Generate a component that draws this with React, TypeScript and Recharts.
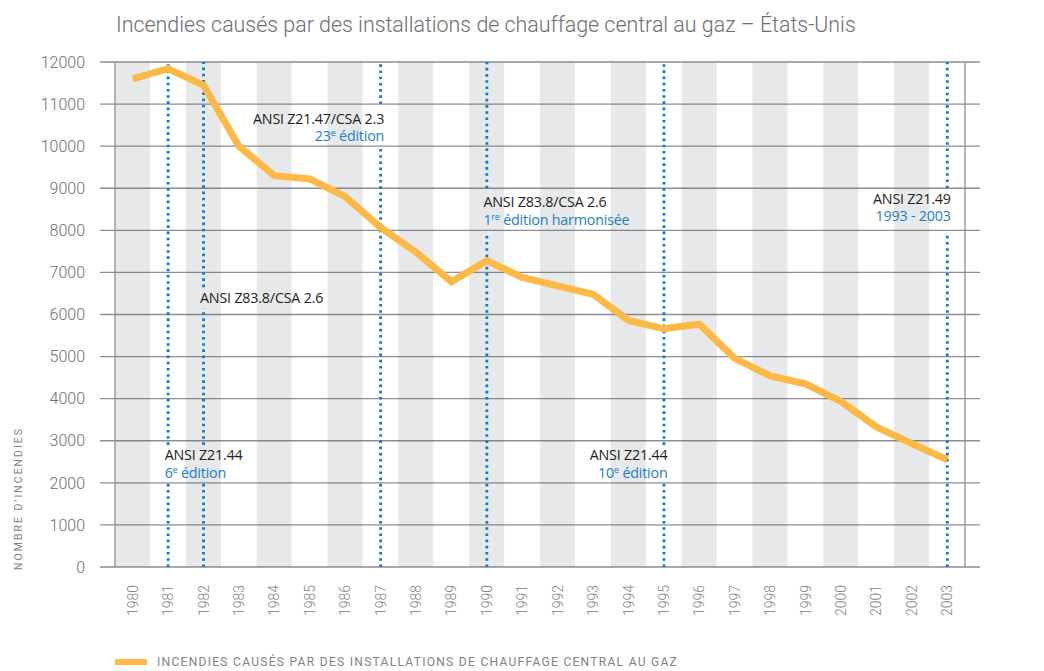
import React from 'react';
import { ComposedChart, Bar, Line, XAxis, YAxis, CartesianGrid, ReferenceLine, ReferenceDot } from 'recharts';

const years = [
  '1980', '1981', '1982', '1983', '1984', '1985', '1986', '1987', '1988', '1989', '1990', '1991',
  '1992', '1993', '1994', '1995', '1996', '1997', '1998', '1999', '2000', '2001', '2002', '2003',
];

const fires = [
  11600, 11840, 11450, 10000, 9300, 9220, 8800, 8070, 7480, 6780, 7280, 6880,
  6680, 6480, 5860, 5660, 5770, 4960, 4540, 4350, 3930, 3330, 2930, 2550,
];

const yTicks = [0, 1000, 2000, 3000, 4000, 5000, 6000, 7000, 8000, 9000, 10000, 11000, 12000];

// every other year is shaded, full height
const bandValues = years.map((_, i) => (i % 2 === 0 ? 12000 : 0));

// dotted edition markers, broken where a label sits on them
const markerSegments = [
  { year: '1981', from: 0, to: 1990 },
  { year: '1981', from: 2900, to: 12000 },
  { year: '1982', from: 0, to: 1990 },
  { year: '1982', from: 2900, to: 6150 },
  { year: '1982', from: 6650, to: 12000 },
  { year: '1987', from: 0, to: 9980 },
  { year: '1987', from: 11000, to: 12000 },
  { year: '1990', from: 0, to: 7950 },
  { year: '1990', from: 9000, to: 12000 },
  { year: '1995', from: 0, to: 1990 },
  { year: '1995', from: 2900, to: 12000 },
  { year: '2003', from: 0, to: 7880 },
  { year: '2003', from: 9000, to: 12000 },
];

const notes = [
  { year: '1987', y: 10650, side: 'end', title: 'ANSI Z21.47/CSA 2.3', num: '23', sup: 'e', rest: ' édition' },
  { year: '1982', y: 6400, side: 'start', title: 'ANSI Z83.8/CSA 2.6' },
  { year: '1990', y: 8670, side: 'start', title: 'ANSI Z83.8/CSA 2.6', num: '1', sup: 're', rest: ' édition harmonisée' },
  { year: '2003', y: 8750, side: 'end', title: 'ANSI Z21.49', num: '1993 - 2003' },
  { year: '1981', y: 2650, side: 'start', title: 'ANSI Z21.44', num: '6', sup: 'e', rest: ' édition' },
  { year: '1995', y: 2650, side: 'end', title: 'ANSI Z21.44', num: '10', sup: 'e', rest: ' édition' },
];

const data = years.map((year, i) => ({ year, fires: fires[i], band: bandValues[i] }));

const GRID = '#8e8e8e';
const AXIS_TEXT = '#6d6e71';
const BLUE = '#0b7bc9';

const NoteLabel = ({ viewBox, note }: any) => {
  const cx = viewBox.x + viewBox.width / 2;
  const cy = viewBox.y + viewBox.height / 2;
  const x = note.side === 'end' ? cx + 3.5 : cx - 3.5;
  return (
    <g fontFamily="'Open Sans', sans-serif" fontSize={14.3}>
      <text x={x} y={cy + 5} textAnchor={note.side} fill="#231f20" letterSpacing={-0.2}>
        {note.title}
      </text>
      {note.num && (
        <text x={x} y={cy + 22.5} textAnchor={note.side} fill="#1a80c6" letterSpacing={-0.2}>
          <tspan>{note.num}</tspan>
          {note.sup && (
            <tspan dy={-5} fontSize={9}>
              {note.sup}
            </tspan>
          )}
          {note.rest && <tspan dy={note.sup ? 5 : 0}>{note.rest}</tspan>}
        </text>
      )}
    </g>
  );
};

const YearTick = ({ x, y, payload }: any) => (
  <text
    x={x}
    y={y + 10}
    transform={`rotate(-90, ${x}, ${y + 10})`}
    textAnchor="end"
    dominantBaseline="central"
    fill="#808285"
    fontFamily="Roboto, sans-serif"
    fontWeight={300}
    fontSize={14}
  >
    {payload.value}
  </text>
);

const AxisTitle = ({ viewBox }: any) => {
  const y = viewBox.y + viewBox.height + 3;
  return (
    <text
      x={18}
      y={y}
      transform={`rotate(-90, 18, ${y})`}
      dominantBaseline="central"
      fill="#808285"
      fontFamily="Roboto, sans-serif"
      fontSize={10.5}
      letterSpacing={2}
    >
      NOMBRE D’INCENDIES
    </text>
  );
};

const gridLine = (props: any) => (
  <line
    key={props.key ?? `h-${props.index}`}
    x1={props.x1 - 15}
    x2={props.x2 + 15}
    y1={props.y1}
    y2={props.y2}
    stroke={GRID}
    strokeWidth={1.3}
  />
);

const App = () => {
  const tickStyle = { fill: AXIS_TEXT, fontSize: 16, fontFamily: 'Roboto, sans-serif', fontWeight: 300 };
  return (
    <div style={{ position: 'absolute', left: 0, top: 0, width: 1044, height: 671, background: '#fff' }}>
      <div
        style={{
          position: 'absolute',
          left: 116,
          top: 10,
          lineHeight: '30px',
          fontFamily: 'Roboto, sans-serif',
          fontWeight: 300,
          fontSize: 21.4,
          color: '#6d6e71',
          whiteSpace: 'nowrap',
        }}
      >
        Incendies causés par des installations de chauffage central au gaz – États-Unis
      </div>
      <ComposedChart
        width={1044}
        height={671}
        data={data}
        margin={{ top: 62, right: 0, bottom: 44, left: 0 }}
        barCategoryGap={0}
        barGap={0}
      >
        <Bar
          dataKey="band"
          yAxisId="left"
          fill="#3c4a5a"
          fillOpacity={0.13}
          isAnimationActive={false}
        />
        <CartesianGrid yAxisId="left" vertical={false} horizontal={gridLine} />
        <XAxis
          dataKey="year"
          interval={0}
          tickLine={false}
          axisLine={false}
          height={60}
          tick={<YearTick />}
        />
        <YAxis
          yAxisId="left"
          orientation="left"
          width={115}
          domain={[0, 12000]}
          ticks={yTicks}
          interval={0}
          tickLine={false}
          axisLine={{ stroke: GRID, strokeWidth: 1.3 }}
          tickSize={6}
          tickMargin={24}
          tick={tickStyle}
          label={<AxisTitle />}
        />
        <YAxis
          yAxisId="right"
          orientation="right"
          width={79}
          domain={[0, 12000]}
          ticks={yTicks}
          interval={0}
          tickLine={false}
          axisLine={{ stroke: GRID, strokeWidth: 1.3 }}
          tickSize={6}
          tickMargin={22}
          tick={{ ...tickStyle, textAnchor: 'start' }}
        />
        {markerSegments.map((s, i) => (
          <ReferenceLine
            key={`seg-${i}`}
            yAxisId="left"
            segment={[
              { x: s.year, y: s.from },
              { x: s.year, y: s.to },
            ]}
            stroke={BLUE}
            strokeWidth={2.8}
            strokeDasharray="2.6 3.6"
          />
        ))}
        <Line
          type="linear"
          dataKey="fires"
          yAxisId="left"
          stroke="#fdb946"
          strokeWidth={7}
          dot={false}
          activeDot={false}
          isAnimationActive={false}
        />
        {notes.map((n, i) => (
          <ReferenceDot
            key={`note-${i}`}
            yAxisId="left"
            x={n.year}
            y={n.y}
            r={0.1}
            fill="none"
            stroke="none"
            label={<NoteLabel note={n} />}
          />
        ))}
      </ComposedChart>
      <div
        style={{
          position: 'absolute',
          left: 115,
          top: 652,
          height: 20,
          display: 'flex',
          alignItems: 'center',
          fontFamily: 'Roboto, sans-serif',
          fontSize: 12,
          letterSpacing: 1.3,
          color: '#808285',
          whiteSpace: 'nowrap',
        }}
      >
        <span style={{ display: 'inline-block', width: 32, height: 6, background: '#fdb946', marginRight: 10 }} />
        INCENDIES CAUSÉS PAR DES INSTALLATIONS DE CHAUFFAGE CENTRAL AU GAZ
      </div>
    </div>
  );
};

export default App;
